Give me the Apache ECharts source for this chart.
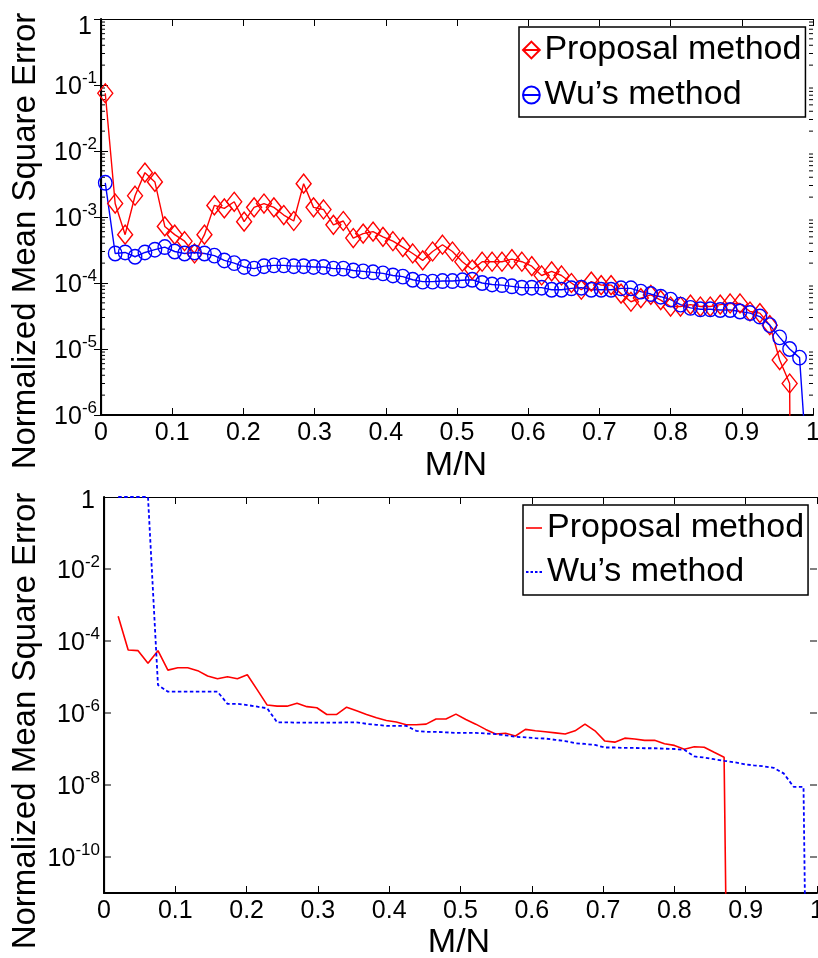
<!DOCTYPE html>
<html>
<head>
<meta charset="utf-8">
<script src="https://cdn.jsdelivr.net/npm/echarts@6/dist/echarts.min.js"></script>
<style>
  html, body { margin: 0; padding: 0; background: #fff; }
  #chart { width: 818px; height: 958px; }
</style>
</head>
<body>
<div id="chart"></div>
<script>
// Sampling ratio M/N shared by every curve
const mnRatio = [
  0.0060, 0.0199, 0.0339, 0.0478, 0.0617, 0.0757, 0.0896, 0.1035, 0.1174, 0.1314,
  0.1453, 0.1592, 0.1732, 0.1871, 0.2010, 0.2150, 0.2289, 0.2428, 0.2567, 0.2707,
  0.2846, 0.2985, 0.3125, 0.3264, 0.3403, 0.3543, 0.3682, 0.3821, 0.3960, 0.4100,
  0.4239, 0.4378, 0.4518, 0.4657, 0.4796, 0.4936, 0.5075, 0.5214, 0.5353, 0.5493,
  0.5632, 0.5771, 0.5911, 0.6050, 0.6189, 0.6329, 0.6468, 0.6607, 0.6746, 0.6886,
  0.7025, 0.7164, 0.7304, 0.7443, 0.7582, 0.7722, 0.7861, 0.8000, 0.8139, 0.8279,
  0.8418, 0.8557, 0.8697, 0.8836, 0.8975, 0.9115, 0.9254, 0.9393, 0.9532, 0.9672,
  0.9811, 0.9950
];

// Upper panel, NMSE (starting at mnRatio[0])
const upperProposal = [
  7.5e-2, 1.6e-3, 5.4e-4, 2.1e-3, 4.7e-3, 3.4e-3, 7.2e-4, 5.4e-4, 4.3e-4, 2.8e-4,
  5.4e-4, 1.5e-3, 1.35e-3, 1.7e-3, 8.5e-4, 1.4e-3, 1.6e-3, 1.4e-3, 1.07e-3, 8.7e-4,
  3.2e-3, 1.4e-3, 1.3e-3, 7.6e-4, 8.7e-4, 4.8e-4, 5.6e-4, 6.0e-4, 5.0e-4, 4.3e-4,
  3.5e-4, 2.8e-4, 2.2e-4, 3.0e-4, 3.8e-4, 3.0e-4, 2.1e-4, 1.6e-4, 2.1e-4, 2.1e-4,
  2.1e-4, 2.3e-4, 2.1e-4, 1.8e-4, 1.3e-4, 1.5e-4, 1.3e-4, 1.0e-4, 7.9e-5, 1.05e-4,
  9.3e-5, 9.3e-5, 6.9e-5, 5.2e-5, 5.9e-5, 6.6e-5, 5.5e-5, 4.4e-5, 4.4e-5, 4.7e-5,
  4.4e-5, 4.4e-5, 4.7e-5, 4.9e-5, 4.9e-5, 3.7e-5, 3.5e-5, 2.3e-5, 6.8e-6, 3.0e-6,
  1e-30
];
const upperWu = [
  3.3e-3, 2.8e-4, 2.9e-4, 2.5e-4, 2.9e-4, 3.2e-4, 3.5e-4, 3.0e-4, 2.8e-4, 2.9e-4,
  2.8e-4, 2.6e-4, 2.2e-4, 2.0e-4, 1.75e-4, 1.65e-4, 1.8e-4, 1.85e-4, 1.85e-4, 1.8e-4,
  1.8e-4, 1.75e-4, 1.75e-4, 1.65e-4, 1.65e-4, 1.55e-4, 1.5e-4, 1.45e-4, 1.4e-4, 1.3e-4,
  1.25e-4, 1.12e-4, 1.05e-4, 1.05e-4, 1.07e-4, 1.07e-4, 1.1e-4, 1.12e-4, 1.0e-4, 9.5e-5,
  9.3e-5, 8.9e-5, 8.5e-5, 8.5e-5, 8.5e-5, 7.9e-5, 7.9e-5, 8.3e-5, 8.5e-5, 7.9e-5,
  7.9e-5, 7.9e-5, 8.3e-5, 8.3e-5, 7.4e-5, 6.8e-5, 6.2e-5, 5.6e-5, 4.7e-5, 4.2e-5,
  4.0e-5, 4.0e-5, 3.9e-5, 3.9e-5, 3.7e-5, 3.5e-5, 3.1e-5, 2.3e-5, 1.5e-5, 1.0e-5,
  7.4e-6, 4.7e-8
];

// Lower panel, NMSE (starting at mnRatio[1])
const lowerProposal = [
  4.9e-4, 5.6e-5, 5.4e-5, 2.4e-5, 5.4e-5, 1.55e-5, 1.8e-5, 1.8e-5, 1.5e-5, 1.07e-5,
  8.9e-6, 1.02e-5, 8.9e-6, 1.15e-5, 4.4e-6, 1.66e-6, 1.55e-6, 1.55e-6, 1.86e-6, 1.5e-6,
  1.4e-6, 9.1e-7, 9.1e-7, 1.45e-6, 1.15e-6, 9.1e-7, 7.4e-7, 6.2e-7, 5.6e-7, 4.7e-7,
  4.7e-7, 4.9e-7, 6.8e-7, 6.8e-7, 9.3e-7, 6.6e-7, 4.9e-7, 3.5e-7, 2.6e-7, 2.75e-7,
  2.3e-7, 3.5e-7, 3.2e-7, 3.0e-7, 2.8e-7, 2.6e-7, 3.2e-7, 4.9e-7, 3.2e-7, 1.66e-7,
  1.55e-7, 2.0e-7, 1.9e-7, 1.74e-7, 1.74e-7, 1.4e-7, 1.26e-7, 9.8e-8, 1.15e-7, 1.12e-7,
  8.1e-8, 5.9e-8, 1e-30
];
const lowerWu = [
  1, 1, 1, 1, 6.0e-6, 3.9e-6, 3.9e-6, 3.9e-6, 3.9e-6, 3.9e-6,
  3.9e-6, 1.8e-6, 1.8e-6, 1.66e-6, 1.5e-6, 1.35e-6, 5.5e-7, 5.5e-7, 5.4e-7, 5.4e-7,
  5.4e-7, 5.4e-7, 5.4e-7, 5.5e-7, 5.5e-7, 5.0e-7, 4.7e-7, 4.4e-7, 4.4e-7, 4.4e-7,
  3.2e-7, 3.0e-7, 3.0e-7, 2.9e-7, 2.8e-7, 2.8e-7, 2.8e-7, 2.7e-7, 2.6e-7, 2.4e-7,
  2.2e-7, 2.1e-7, 2.0e-7, 1.95e-7, 1.8e-7, 1.66e-7, 1.45e-7, 1.38e-7, 1.3e-7, 1.1e-7,
  1.1e-7, 1.07e-7, 1.07e-7, 1.05e-7, 1.05e-7, 1.02e-7, 1.0e-7, 9.5e-8, 6.2e-8, 5.8e-8,
  5.2e-8, 4.7e-8, 4.3e-8, 3.8e-8, 3.5e-8, 3.3e-8, 3.0e-8, 2.1e-8, 8.9e-9, 8.9e-9,
  1e-30
];

const proposalName = 'Proposal method';
const wuName = 'Wu\u2019s method';
const yTitle = 'Normalized Mean Square Error';
const xTitle = 'M/N';
const lowerMajorTicks = [1e-10, 1e-8, 1e-6, 1e-4, 1e-2];

const FONT = "'Liberation Sans', Arial, Helvetica, sans-serif";
const RED = '#ff0000';
const BLUE = '#0000ff';

const pairs = (vals, start) => vals.map((v, i) => [mnRatio[start + i], v]);

// upper panel minor ticks 2..9 x 10^e
const upperMinorTicks = [];
for (let e = -6; e < 0; e++) {
  for (let m = 2; m <= 9; m++) upperMinorTicks.push([0, m * Math.pow(10, e)]);
}

const labelRich = {
  b: { fontSize: 25, fontFamily: FONT, color: '#000', lineHeight: 30, padding: [4, 0, 0, 0] },
  s: { fontSize: 17, fontFamily: FONT, color: '#000', lineHeight: 20, verticalAlign: 'top' },
  oneU: { fontSize: 25, fontFamily: FONT, color: '#000', lineHeight: 30, padding: [17, 5, 0, 0] },
  oneL: { fontSize: 25, fontFamily: FONT, color: '#000', lineHeight: 30, padding: [9, 5, 0, 0] }
};
function powerFormatter(oneKey, evenOnly) {
  return function (value) {
    const e = Math.round(Math.log10(value));
    if (evenOnly && Math.abs(e) % 2 === 1) return '';
    if (e === 0) return '{' + oneKey + '|1}';
    return '{b|10}{s|' + e + '}';
  };
}

function sideTicks(len) {
  return function (params, api) {
    const v = api.value(1);
    const l = api.coord([0, v]);
    const r = api.coord([1, v]);
    return {
      type: 'group',
      children: [
        { type: 'line', shape: { x1: l[0], y1: l[1], x2: l[0] + len, y2: l[1] }, style: { stroke: '#000', lineWidth: 1 } },
        { type: 'line', shape: { x1: r[0] - len, y1: r[1], x2: r[0], y2: r[1] }, style: { stroke: '#000', lineWidth: 1 } }
      ]
    };
  };
}

function xAxes(gridIndex) {
  return [
    {
      gridIndex, type: 'value', position: 'bottom', min: 0, max: 1, interval: 0.1,
      axisLine: { show: true, lineStyle: { color: '#000', width: 2 } },
      axisTick: { show: true, inside: true, length: 7, lineStyle: { color: '#000', width: 1 } },
      axisLabel: { show: true, margin: 6, fontSize: 25, fontFamily: FONT, color: '#000' },
      splitLine: { show: false }
    },
    {
      gridIndex, type: 'value', position: 'top', min: 0, max: 1, interval: 0.1,
      axisLine: { show: true, lineStyle: { color: '#000', width: 1.2 } },
      axisTick: { show: true, inside: true, length: 7, lineStyle: { color: '#000', width: 1 } },
      axisLabel: { show: false },
      splitLine: { show: false }
    }
  ];
}

function yAxes(gridIndex, min, oneKey, evenOnly, showTicks) {
  return [
    {
      gridIndex, type: 'log', logBase: 10, position: 'left', min, max: 1, interval: 1,
      axisLine: { show: true, lineStyle: { color: '#000', width: 2 } },
      axisTick: { show: showTicks, inside: true, length: 7, lineStyle: { color: '#000', width: 1 } },
      axisLabel: { show: true, margin: 4, formatter: powerFormatter(oneKey, evenOnly), rich: labelRich },
      splitLine: { show: false },
      minorTick: { show: false }
    },
    {
      gridIndex, type: 'log', logBase: 10, position: 'right', min, max: 1, interval: 1,
      axisLine: { show: true, lineStyle: { color: '#000', width: 1.2 } },
      axisTick: { show: showTicks, inside: true, length: 7, lineStyle: { color: '#000', width: 1 } },
      axisLabel: { show: false },
      splitLine: { show: false }
    }
  ];
}

const legendCommon = {
  orient: 'vertical',
  itemWidth: 16,
  itemHeight: 21,
  backgroundColor: '#fff',
  borderColor: '#000',
  borderWidth: 1.5,
  borderRadius: 0,
  selectedMode: false,
  textStyle: { fontSize: 34, fontFamily: FONT, color: '#000' },
  formatter: (n) => n.trim()
};

// short solid and dotted strokes used as legend keys in the lower panel
const solidKey = 'path://M0,0H16V1.6H0Z';
const dottedKey = 'path://M0,0H2.5V1.8H0ZM4.5,0H7V1.8H4.5ZM9,0H11.5V1.8H9ZM13.5,0H16V1.8H13.5Z';

const option = {
  animation: false,
  backgroundColor: '#fff',
  grid: [
    { left: 101, top: 19, width: 712, height: 396, outerBoundsMode: 'none' },
    { left: 104, top: 497, width: 713, height: 396, outerBoundsMode: 'none' }
  ],
  xAxis: [...xAxes(0), ...xAxes(1)],
  yAxis: [
    ...yAxes(0, 1e-6, 'oneU', false, true),
    ...yAxes(1, 1e-11, 'oneL', true, false)
  ],
  legend: [
    Object.assign({}, legendCommon, {
      data: [proposalName, wuName], left: 519, top: 27, padding: [6, 4, 5, 3], itemGap: 11
    }),
    Object.assign({}, legendCommon, {
      data: [
        { name: proposalName + ' ', icon: solidKey },
        { name: wuName + ' ', icon: dottedKey }
      ],
      itemHeight: 1.8, itemWidth: 16,
      left: 523, top: 505, padding: [6, 4, 6, 3], itemGap: 10
    })
  ],
  graphic: [
    { type: 'text', x: 26, y: 241, rotation: Math.PI / 2,
      style: { text: yTitle, font: '33px ' + FONT, fill: '#000', align: 'center', verticalAlign: 'middle' } },
    { type: 'text', x: 26, y: 721, rotation: Math.PI / 2,
      style: { text: yTitle, font: '33px ' + FONT, fill: '#000', align: 'center', verticalAlign: 'middle' } },
    { type: 'text', x: 456, y: 466,
      style: { text: xTitle, font: '34px ' + FONT, fill: '#000', align: 'center', verticalAlign: 'middle' } },
    { type: 'text', x: 459, y: 943,
      style: { text: xTitle, font: '34px ' + FONT, fill: '#000', align: 'center', verticalAlign: 'middle' } }
  ],
  series: [
    {
      type: 'line', name: proposalName, xAxisIndex: 0, yAxisIndex: 0,
      data: pairs(upperProposal, 0), clip: true, silent: true,
      symbol: 'diamond', symbolSize: [15, 19], showAllSymbol: true,
      lineStyle: { color: RED, width: 1.4 },
      itemStyle: { color: 'rgba(255,0,0,0)', borderColor: RED, borderWidth: 1.4 }
    },
    {
      type: 'line', name: wuName, xAxisIndex: 0, yAxisIndex: 0,
      data: pairs(upperWu, 0), clip: true, silent: true,
      symbol: 'circle', symbolSize: [13.5, 14.5], showAllSymbol: true,
      lineStyle: { color: BLUE, width: 1.4 },
      itemStyle: { color: 'rgba(0,0,255,0)', borderColor: BLUE, borderWidth: 1.4 }
    },
    {
      type: 'custom', name: 'upperMinor', xAxisIndex: 0, yAxisIndex: 0, silent: true,
      data: upperMinorTicks, renderItem: sideTicks(4), encode: { x: 0, y: 1 }
    },
    {
      type: 'line', name: proposalName + ' ', xAxisIndex: 2, yAxisIndex: 2,
      data: pairs(lowerProposal, 1), clip: true, silent: true, symbol: 'none',
      lineStyle: { color: RED, width: 1.6 },
      itemStyle: { color: RED }
    },
    {
      type: 'line', name: wuName + ' ', xAxisIndex: 2, yAxisIndex: 2,
      data: pairs(lowerWu, 1), clip: true, silent: true, symbol: 'none',
      lineStyle: { color: BLUE, width: 1.8, type: [3.5, 2.5] },
      itemStyle: { color: BLUE }
    },
    {
      type: 'custom', name: 'lowerMajor', xAxisIndex: 2, yAxisIndex: 2, silent: true,
      data: lowerMajorTicks.map((v) => [0, v]), renderItem: sideTicks(7), encode: { x: 0, y: 1 }
    }
  ]
};

const chart = echarts.init(document.getElementById('chart'), null, { renderer: 'canvas' });
chart.setOption(option);
</script>
</body>
</html>
